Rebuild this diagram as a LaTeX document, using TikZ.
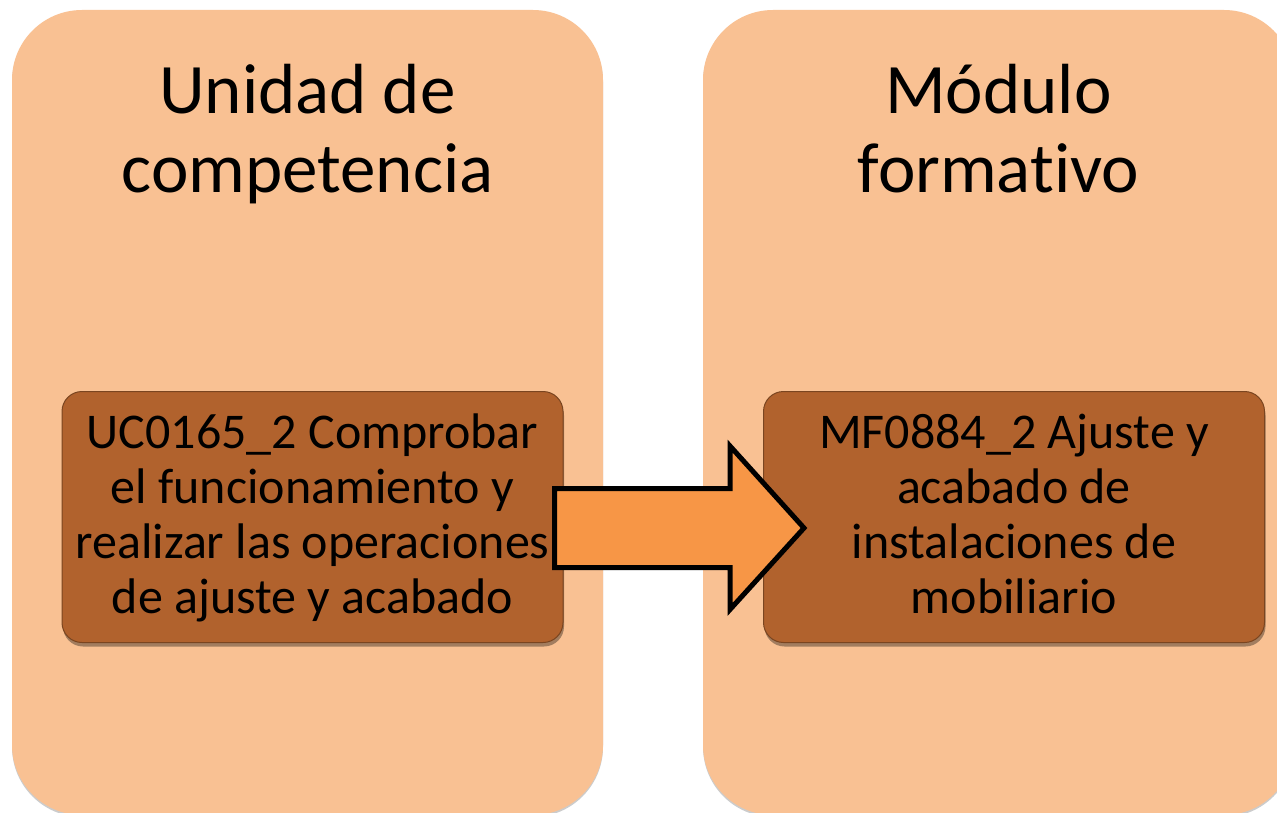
\documentclass[tikz,border=0pt]{standalone}
\usepackage{fontspec}
\setmainfont{Carlito}[Ligatures=NoCommon]
\usetikzlibrary{shadows}
\definecolor{bigfill}{HTML}{F9C193}
\definecolor{innerfill}{HTML}{B1622D}
\definecolor{innerline}{HTML}{7A4520}
\definecolor{arrowfill}{HTML}{F79646}
\begin{document}
\begin{tikzpicture}[x=1pt,y=-1pt,
  bigbox/.style={fill=bigfill, draw=none, rounded corners=70pt,
    minimum width=591pt, minimum height=805pt, inner sep=0pt,
    drop shadow={shadow xshift=0pt, shadow yshift=-2pt, opacity=.2, fill=black}},
  titletext/.style={anchor=north, inner sep=0pt, align=center,
    font=\fontsize{71}{79}\selectfont, text=black},
  innerbox/.style={fill=innerfill, draw=innerline, line width=1pt,
    rounded corners=20pt, minimum width=501pt, minimum height=251pt,
    inner sep=0pt, align=center, font=\fontsize{50}{55}\selectfont, text=black,
    drop shadow={shadow xshift=1pt, shadow yshift=-4pt, opacity=.35, fill=black}},
  blockarrow/.style={fill=arrowfill, draw=black, line width=5pt, line join=miter}
]
\useasboundingbox (0,0) rectangle (1277,813);
\clip (0,0) rectangle (1277,813);
\fill[white] (0,0) rectangle (1277,813);

\node[bigbox] (uc) at (307.5,412.5) {};
\node[bigbox] (mf) at (998.5,412.5) {};

\node[titletext] (uctitle) at (307.5,48) {\rule{0pt}{65pt}Unidad de\\competencia};
\node[titletext] (mftitle) at (998.5,48) {\rule{0pt}{65pt}Módulo\\formativo};

\node[innerbox] (ucbox) at (312.5,517) {\rule{0pt}{38pt}UC0165\_2 Comprobar\\el funcionamiento y\\realizar las operaciones\\de ajuste y acabado\rule[-11pt]{0pt}{11pt}};
\node[innerbox] (mfbox) at (1014,517) {\rule{0pt}{38pt}MF0884\_2 Ajuste y\\acabado de\\instalaciones de\\mobiliario\rule[-11pt]{0pt}{11pt}};

\draw[blockarrow] (554.5,488.5) -- (730,488.5) -- (730,446) -- (804,528)
  -- (730,609.5) -- (730,567.5) -- (554.5,567.5) -- cycle;
\end{tikzpicture}
\end{document}
